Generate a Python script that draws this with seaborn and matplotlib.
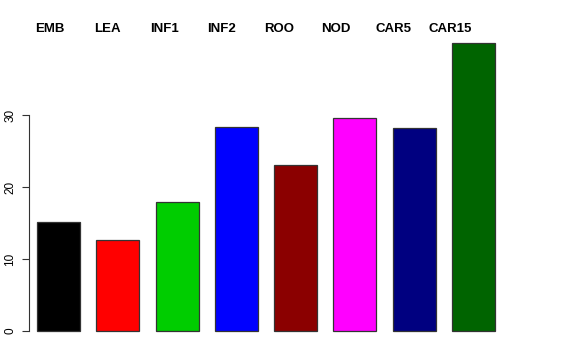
import pandas as pd
import seaborn as sns
import matplotlib.pyplot as plt

# Dados
tecidos = ['EMB', 'LEA', 'INF1', 'INF2', 'ROO', 'NOD', 'CAR5', 'CAR15']
valores = [15.1, 12.6, 17.9, 28.3, 23.1, 29.6, 28.2, 40.0]
cores = ['#000000', '#FF0000', '#00CD00', '#0000FF', '#8B0000', '#FF00FF', '#000080', '#006400']

base = pd.DataFrame({'tecido': tecidos, 'valor': valores})

sns.set_style('white')
plt.rcParams['font.family'] = ['Liberation Sans', 'DejaVu Sans']
plt.rcParams['text.color'] = 'black'
plt.rcParams['ytick.color'] = 'black'

fig = plt.figure(figsize=(5.76, 3.6), dpi=100)
ax = fig.add_axes([29 / 576, (360 - 342.5) / 360, 474 / 576, 311 / 360])

sns.barplot(data=base, x='tecido', y='valor', hue='tecido', palette=cores,
            width=0.725, edgecolor='#333333', linewidth=0.9, saturation=1,
            legend=False, ax=ax)

ax.set_xlim(-0.5, 7.5)
ax.set_ylim(-1.6, 41.6)
ax.set_xlabel('')
ax.set_ylabel('')
ax.set_xticks([])
ax.set_yticks([0, 10, 20, 30])
ax.set_yticklabels(['0', '10', '20', '30'], rotation=90, va='center', fontsize=8.5)
ax.tick_params(axis='y', length=5, width=0.8, color='#333333', labelcolor='black', pad=4, left=True)

for lado in ['top', 'right', 'bottom']:
    ax.spines[lado].set_visible(False)
ax.spines['left'].set_bounds(0, 30)
ax.spines['left'].set_color('#333333')
ax.spines['left'].set_linewidth(0.8)

# rótulos no topo
for i, t in enumerate(tecidos):
    ax.text(i * 0.966 - 0.15, 1.008, t, transform=ax.get_xaxis_transform(),
            ha='center', va='center', fontsize=9.5, fontweight='bold', color='black')

fig.savefig('out.png', dpi=100)
